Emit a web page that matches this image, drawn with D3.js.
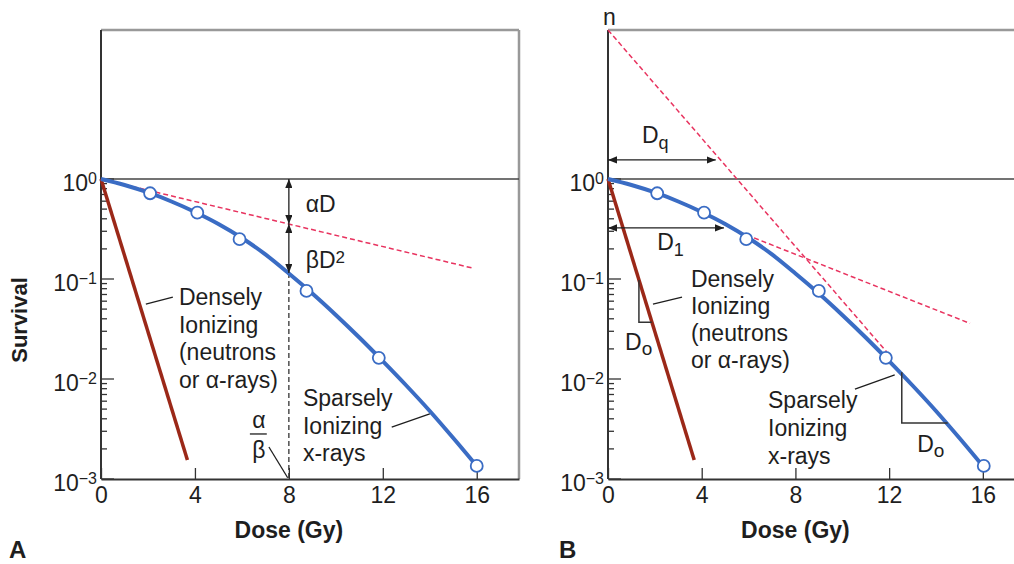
<!DOCTYPE html>
<html lang="en">
<head>
<meta charset="utf-8">
<title>Cell survival curves</title>
<script src="https://cdn.jsdelivr.net/npm/d3@7"></script>
<style>
  body { margin: 0; background: #fff; }
  svg text { font-family: "Liberation Sans", Arial, Helvetica, sans-serif; fill: #1e1e1e; }
  .lbl { font-size: 23px; }
  .bold { font-weight: bold; }
</style>
</head>
<body>
<script>
// axis ticks
var doseTicks = [0, 4, 8, 12, 16];
var survTicks = [1, 0.1, 0.01, 0.001];
var survExp = ["0", "\u22121", "\u22122", "\u22123"];

// sparsely ionizing (x-rays) curve
var sparseDose = [0, 1, 2, 3, 4, 5, 6, 7, 8, 9, 10, 11, 12, 13, 14, 15, 16];
var sparseSurv = [1, 0.871, 0.733, 0.596, 0.468, 0.355, 0.257, 0.176, 0.1135, 0.0716,
                  0.0437, 0.026, 0.0151, 0.00861, 0.00479, 0.00257, 0.00135];

// measured points (open circles)
var circDoseA = [2.09, 4.1, 5.9, 8.75, 11.83, 16];
var circSurvA = [0.72, 0.46, 0.25, 0.076, 0.0163, 0.00135];
var circDoseB = [2.1, 4.1, 5.9, 9.0, 11.86, 16.04];
var circSurvB = [0.72, 0.46, 0.25, 0.076, 0.0163, 0.00135];

// densely ionizing (neutrons / alpha) line
var denseDose = [0, 3.68];
var denseSurv = [1, 0.00155];

// panel A: alpha component
var alphaDose = [0, 15.8];
var alphaSurv = [1, 0.129];

// panel B: extrapolated final slope and initial slope
var multiDose = [0, 11.9];
var multiSurv = [30.9, 0.0186];
var initDose = [5.6, 15.45];
var initSurv = [0.295, 0.036];

// D0 triangles in panel B
var triRedDose = [1.32, 1.32, 1.87];
var triRedSurv = [0.098, 0.037, 0.037];
var triBlueDose = [12.54, 12.54, 14.5];
var triBlueSurv = [0.0117, 0.00363, 0.00363];

var W = 1014, H = 564;
var blue = "#3a6cc4", red = "#9b2818", pink = "#e8335f", ink = "#1e1e1e", axisCol = "#333";

var svg = d3.select("body").append("svg").attr("width", W).attr("height", H);

var defs = svg.append("defs");
defs.append("marker")
    .attr("id", "arr")
    .attr("viewBox", "0 0 10 8")
    .attr("refX", 10).attr("refY", 4)
    .attr("markerWidth", 9).attr("markerHeight", 7.2)
    .attr("markerUnits", "userSpaceOnUse")
    .attr("orient", "auto-start-reverse")
  .append("path")
    .attr("d", "M0,0L10,4L0,8z")
    .attr("fill", ink);

var y = d3.scaleLog().domain([1e-3, 30.9]).range([479, 30]);
var xA = d3.scaleLinear().domain([0, 17.8]).range([101, 519]);
var xB = d3.scaleLinear().domain([0, 17.8]).range([608, 1025]);

function zip(a, b) { return a.map(function(d, i) { return [d, b[i]]; }); }

function seg(g, x, d0, s0, d1, s1) {
    return g.append("line")
        .attr("x1", x(d0)).attr("y1", y(s0))
        .attr("x2", x(d1)).attr("y2", y(s1))
        .attr("stroke", ink).attr("stroke-width", 1.3);
}

function lines(g, x, d, s, rows, sp) {
    var t = g.append("text").attr("class", "lbl").attr("x", x(d)).attr("y", y(s));
    rows.forEach(function(r, i) {
        t.append("tspan").attr("x", x(d)).attr("dy", i == 0 ? 0 : sp).text(r);
    });
    return t;
}

function sub(g, x, d, s, main, small, dy, size) {
    var t = g.append("text").attr("class", "lbl").attr("x", x(d)).attr("y", y(s)).text(main);
    t.append("tspan").attr("dy", dy).attr("font-size", size).text(small);
    return t;
}

function drawPanel(x, right) {
    var g = svg.append("g");
    var x0 = x(0);

    // gray frame
    g.append("line").attr("x1", x0).attr("x2", x(17.8)).attr("y1", y(30.9)).attr("y2", y(30.9))
        .attr("stroke", "#999").attr("stroke-width", 2.5);
    if (right) {
        g.append("line").attr("x1", x(17.8)).attr("x2", x(17.8)).attr("y1", y(30.9)).attr("y2", y(1e-3))
            .attr("stroke", "#999").attr("stroke-width", 2.5);
    }

    // line at survival 1
    g.append("line").attr("x1", x0).attr("x2", x(17.8)).attr("y1", y(1)).attr("y2", y(1))
        .attr("stroke", "#444").attr("stroke-width", 1.5);

    // y ticks
    var yt = y.ticks().filter(function(t) { return t <= 1.0001; });
    g.selectAll(".ytick").data(yt).enter().append("line")
        .attr("x1", x0)
        .attr("x2", function(t) { return x0 + (survTicks.some(function(m) { return Math.abs(m - t) < m * 1e-6; }) ? 13 : 6); })
        .attr("y1", function(t) { return y(t); })
        .attr("y2", function(t) { return y(t); })
        .attr("stroke", axisCol).attr("stroke-width", 1.3);

    survTicks.forEach(function(t, i) {
        var tx = g.append("text").attr("class", "lbl").attr("text-anchor", "end")
            .attr("x", x0 - 4).attr("y", y(t) + 12).text("10");
        tx.append("tspan").attr("dy", -7).attr("font-size", 16).text(survExp[i]);
    });

    // x axis
    var xAxis = d3.axisBottom(x).tickValues(doseTicks).tickSizeInner(-11).tickSizeOuter(0).tickPadding(8);
    var ax = g.append("g").attr("transform", "translate(0," + y(1e-3) + ")").call(xAxis);
    ax.select(".domain").attr("stroke", axisCol).attr("stroke-width", 2);
    ax.selectAll(".tick line").attr("stroke", axisCol).attr("stroke-width", 1.3);
    ax.selectAll(".tick text").attr("font-size", 23).attr("fill", ink)
        .attr("font-family", "Liberation Sans, Arial, sans-serif");

    // y axis line
    g.append("line").attr("x1", x0).attr("x2", x0).attr("y1", y(30.9)).attr("y2", y(1e-3))
        .attr("stroke", axisCol).attr("stroke-width", 2);

    g.append("text").attr("class", "bold").attr("font-size", 23).attr("text-anchor", "middle")
        .attr("x", x(8)).attr("y", 538).text("Dose (Gy)");

    // densely ionizing line
    g.append("path").datum(zip(denseDose, denseSurv))
        .attr("d", d3.line().x(function(d) { return x(d[0]); }).y(function(d) { return y(d[1]); }))
        .attr("fill", "none").attr("stroke", red).attr("stroke-width", 3.5);

    return g;
}

function drawCurve(g, x, circDose, circSurv) {
    g.append("path").datum(zip(sparseDose, sparseSurv))
        .attr("d", d3.line().curve(d3.curveMonotoneX)
            .x(function(d) { return x(d[0]); }).y(function(d) { return y(d[1]); }))
        .attr("fill", "none").attr("stroke", blue).attr("stroke-width", 4);
    g.selectAll(".pt").data(zip(circDose, circSurv)).enter().append("circle")
        .attr("cx", function(d) { return x(d[0]); })
        .attr("cy", function(d) { return y(d[1]); })
        .attr("r", 6)
        .attr("fill", "#fff").attr("stroke", blue).attr("stroke-width", 1.8);
}

function dashed(g, x, dd, ss) {
    g.append("path").datum(zip(dd, ss))
        .attr("d", d3.line().x(function(d) { return x(d[0]); }).y(function(d) { return y(d[1]); }))
        .attr("fill", "none").attr("stroke", pink).attr("stroke-width", 1.5)
        .attr("stroke-dasharray", "5,3");
}

// ---------- Panel A ----------
var gA = drawPanel(xA, true);
dashed(gA, xA, alphaDose, alphaSurv);

// alpha/beta vertical marker
gA.append("line").attr("x1", xA(8)).attr("x2", xA(8)).attr("y1", y(0.115)).attr("y2", y(1e-3))
    .attr("stroke", axisCol).attr("stroke-width", 1.3).attr("stroke-dasharray", "5,3");
drawCurve(gA, xA, circDoseA, circSurvA);

seg(gA, xA, 8, 1, 8, 0.355).attr("marker-start", "url(#arr)").attr("marker-end", "url(#arr)");
seg(gA, xA, 8, 0.355, 8, 0.115).attr("marker-start", "url(#arr)").attr("marker-end", "url(#arr)");

gA.append("text").attr("class", "lbl").attr("x", xA(8.72)).attr("y", y(0.468)).text("\u03b1D");
sub(gA, xA, 8.72, 0.129, "\u03b2D", "2", -5, 17);

lines(gA, xA, 3.32, 0.055, ["Densely", "Ionizing", "(neutrons", "or \u03b1-rays)"], 27.7);
seg(gA, xA, 1.91, 0.0562, 3.06, 0.066);

lines(gA, xA, 8.6, 0.00537, ["Sparsely", "Ionizing", "x-rays"], 27.5);
seg(gA, xA, 12.38, 0.00331, 14.0, 0.00447);

gA.append("text").attr("class", "lbl").attr("text-anchor", "middle")
    .attr("x", xA(6.72)).attr("y", y(0.00324)).text("\u03b1");
seg(gA, xA, 6.34, 0.00282, 7.06, 0.00282);
gA.append("text").attr("class", "lbl").attr("text-anchor", "middle")
    .attr("x", xA(6.72)).attr("y", y(0.00162)).text("\u03b2");
seg(gA, xA, 7.15, 0.00209, 7.95, 0.00103);

svg.append("text").attr("class", "bold").attr("font-size", 22)
    .attr("transform", "translate(27,320) rotate(-90)").attr("text-anchor", "middle").text("Survival");
svg.append("text").attr("class", "bold").attr("font-size", 24).attr("x", 9).attr("y", 558).text("A");

// ---------- Panel B ----------
var gB = drawPanel(xB, false);
dashed(gB, xB, multiDose, multiSurv);
dashed(gB, xB, initDose, initSurv);
drawCurve(gB, xB, circDoseB, circSurvB);

gB.append("text").attr("class", "lbl").attr("text-anchor", "middle")
    .attr("x", xB(0.06)).attr("y", 25).text("n");

seg(gB, xB, 0, 1.55, 4.6, 1.55).attr("marker-start", "url(#arr)").attr("marker-end", "url(#arr)");
sub(gB, xB, 1.45, Math.pow(10, 0.36), "D", "q", 6, 18);
seg(gB, xB, 0, 0.324, 4.95, 0.324).attr("marker-start", "url(#arr)").attr("marker-end", "url(#arr)");
sub(gB, xB, 2.1, Math.pow(10, -0.71), "D", "1", 6, 18);

gB.append("path").datum(zip(triRedDose, triRedSurv))
    .attr("d", d3.line().x(function(d) { return xB(d[0]); }).y(function(d) { return y(d[1]); }))
    .attr("fill", "none").attr("stroke", axisCol).attr("stroke-width", 1.5);
sub(gB, xB, 0.73, Math.pow(10, -1.71), "D", "o", 5, 19);

lines(gB, xB, 3.54, Math.pow(10, -1.08), ["Densely", "Ionizing", "(neutrons", "or \u03b1-rays)"], 27);
seg(gB, xB, 1.92, 0.0562, 3.16, 0.066);

gB.append("path").datum(zip(triBlueDose, triBlueSurv))
    .attr("d", d3.line().x(function(d) { return xB(d[0]); }).y(function(d) { return y(d[1]); }))
    .attr("fill", "none").attr("stroke", axisCol).attr("stroke-width", 1.5);
sub(gB, xB, 13.2, Math.pow(10, -2.73), "D", "o", 5, 19);

lines(gB, xB, 6.83, Math.pow(10, -2.29), ["Sparsely", "Ionizing", "x-rays"], 28);
seg(gB, xB, 10.54, 0.00794, 12.24, 0.011);

svg.append("text").attr("class", "bold").attr("font-size", 24).attr("x", 559).attr("y", 558).text("B");
</script>
</body>
</html>
